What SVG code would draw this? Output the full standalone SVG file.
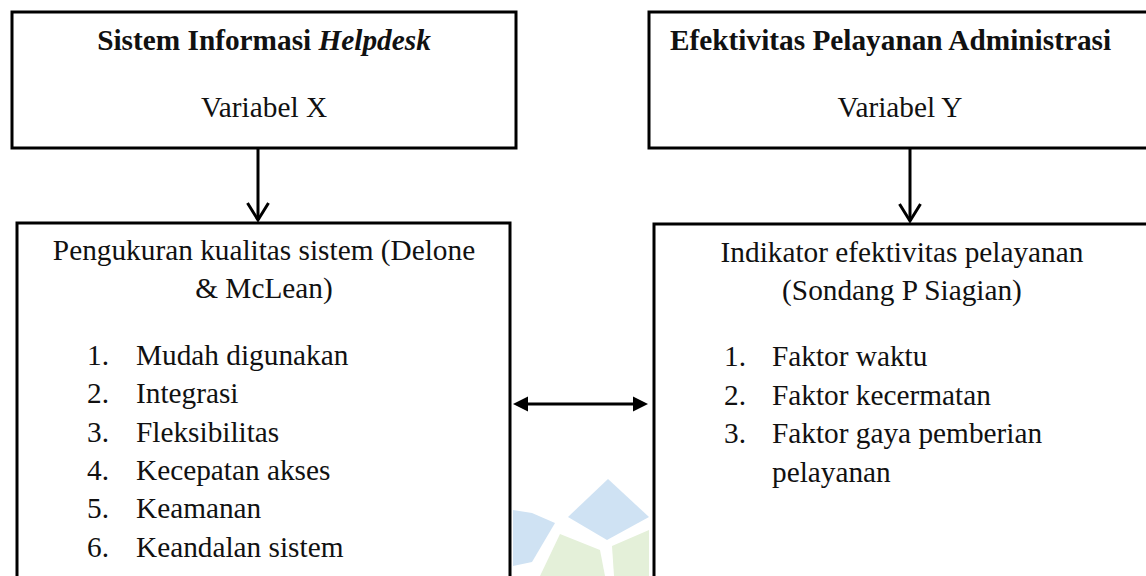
<svg xmlns="http://www.w3.org/2000/svg" width="1146" height="576" viewBox="0 0 1146 576">
  <defs>
    <style>
      .box { fill: none; stroke: #000; stroke-width: 3; }
      .t { font-family: "Liberation Serif", "Times New Roman", serif; font-size: 29.3px; fill: #111; }
      .b { font-weight: bold; }
      .c { text-anchor: middle; }
      .conn { stroke: #000; stroke-width: 3; fill: none; }
      .wb { fill: #cfe2f3; }
      .wg { fill: #e4f0d9; }
    </style>
    <marker id="vhead" viewBox="-20 -12 24 24" refX="0" refY="0" markerWidth="24" markerHeight="24" markerUnits="userSpaceOnUse" orient="auto">
      <path d="M-17,-10.5 L0,0 L-17,10.5" fill="none" stroke="#000" stroke-width="3"/>
    </marker>
    <marker id="tri" viewBox="-4 -10 20 20" refX="0" refY="0" markerWidth="20" markerHeight="20" markerUnits="userSpaceOnUse" orient="auto-start-reverse">
      <path d="M-2,-7.5 L13,0 L-2,7.5 Z" fill="#000"/>
    </marker>
  </defs>
  <rect width="1146" height="576" fill="#fff"/>

  <g id="watermark">
    <polygon class="wb" points="513,510 532,513 555,523 532,562 513,566"/>
    <polygon class="wb" points="568,517 608,479 649,517 607,540"/>
    <polygon class="wg" points="560,534 600,550 605,576 540,576"/>
    <polygon class="wg" points="612,546 649,530 649,576 614,576"/>
  </g>

  <g id="node-x">
    <rect class="box" x="12" y="12" width="504" height="136"/>
    <text class="t b c" x="264" y="50">Sistem Informasi <tspan font-style="italic">Helpdesk</tspan></text>
    <text class="t c" x="264" y="117">Variabel X</text>
  </g>

  <g id="node-y">
    <rect class="box" x="649" y="12" width="520" height="136"/>
    <text class="t b" x="670" y="50">Efektivitas Pelayanan Administrasi</text>
    <text class="t c" x="900" y="117">Variabel Y</text>
  </g>

  <g id="node-x-detail">
    <rect class="box" x="17" y="223" width="493" height="380"/>
    <text class="t c" x="264" y="260">Pengukuran kualitas sistem (Delone</text>
    <text class="t c" x="264" y="298">&amp; McLean)</text>
    <text class="t" x="87" y="365">1.</text><text class="t" x="136" y="365">Mudah digunakan</text>
    <text class="t" x="87" y="403">2.</text><text class="t" x="136" y="403">Integrasi</text>
    <text class="t" x="87" y="442">3.</text><text class="t" x="136" y="442">Fleksibilitas</text>
    <text class="t" x="87" y="480">4.</text><text class="t" x="136" y="480">Kecepatan akses</text>
    <text class="t" x="87" y="518">5.</text><text class="t" x="136" y="518">Keamanan</text>
    <text class="t" x="87" y="557">6.</text><text class="t" x="136" y="557">Keandalan sistem</text>
  </g>

  <g id="node-y-detail">
    <rect class="box" x="654" y="224" width="520" height="380"/>
    <text class="t c" x="902" y="262">Indikator efektivitas pelayanan</text>
    <text class="t c" x="902" y="300">(Sondang P Siagian)</text>
    <text class="t" x="724" y="366">1.</text><text class="t" x="772" y="366">Faktor waktu</text>
    <text class="t" x="724" y="405">2.</text><text class="t" x="772" y="405">Faktor kecermatan</text>
    <text class="t" x="724" y="443">3.</text><text class="t" x="772" y="443">Faktor gaya pemberian</text>
    <text class="t" x="772" y="482">pelayanan</text>
  </g>

  <g id="connectors">
    <line class="conn" x1="258" y1="149" x2="258" y2="220" marker-end="url(#vhead)"/>
    <line class="conn" x1="910" y1="149" x2="910" y2="221" marker-end="url(#vhead)"/>
    <line class="conn" x1="526" y1="404" x2="635" y2="404" marker-start="url(#tri)" marker-end="url(#tri)"/>
  </g>
</svg>
